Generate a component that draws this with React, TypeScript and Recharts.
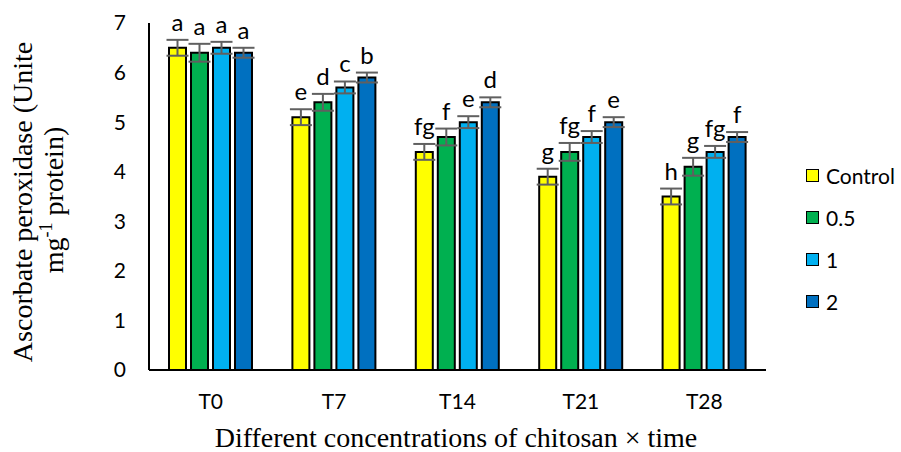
import { BarChart, Bar, XAxis, YAxis, ErrorBar, LabelList, Label } from 'recharts';

const categories = ['T0', 'T7', 'T14', 'T21', 'T28'];

const control = [6.5, 5.1, 4.4, 3.9, 3.5];
const c05 = [6.4, 5.4, 4.7, 4.4, 4.1];
const c1 = [6.5, 5.7, 5.0, 4.7, 4.4];
const c2 = [6.4, 5.9, 5.4, 5.0, 4.7];

const errControl = [0.16, 0.16, 0.16, 0.16, 0.16];
const err05 = [0.18, 0.17, 0.17, 0.18, 0.18];
const err1 = [0.12, 0.12, 0.12, 0.12, 0.12];
const err2 = [0.1, 0.1, 0.1, 0.1, 0.1];

const lettersControl = ['a', 'e', 'fg', 'g', 'h'];
const letters05 = ['a', 'd', 'f', 'fg', 'g'];
const letters1 = ['a', 'c', 'e', 'f', 'fg'];
const letters2 = ['a', 'b', 'd', 'e', 'f'];

const yTicks = [0, 1, 2, 3, 4, 5, 6, 7];

const series = [
	{ key: 'control', name: 'Control', color: '#FFFF00', values: control, errors: errControl, letters: lettersControl },
	{ key: 'c05', name: '0.5', color: '#00B050', values: c05, errors: err05, letters: letters05 },
	{ key: 'c1', name: '1', color: '#00B0F0', values: c1, errors: err1, letters: letters1 },
	{ key: 'c2', name: '2', color: '#0070C0', values: c2, errors: err2, letters: letters2 },
];

const data = categories.map((name, i) => {
	const row: Record<string, string | number> = { name };
	series.forEach((s) => {
		row[s.key] = s.values[i];
		row[s.key + 'Err'] = s.errors[i];
		row[s.key + 'Letter'] = s.letters[i];
	});
	return row;
});

const tickFont = { fontFamily: 'Lato', fontSize: 21, fill: '#000' };

const makeLetter = (values: number[], errors: number[]) => (props: any) => {
	const { x, y, width, height, index, value } = props;
	const pxPerUnit = height / values[index];
	const top = y - errors[index] * pxPerUnit;
	return (
		<text
			x={x + width / 2}
			y={top - 9}
			textAnchor="middle"
			fontFamily="Lato"
			fontSize={24}
			fill="#000"
		>
			{value}
		</text>
	);
};

const YTitle = () => (
	<g fontFamily="'Liberation Serif', 'Times New Roman', serif" fontSize={28} fill="#000">
		<text transform="translate(32, 202) rotate(-90)" textAnchor="middle">
			Ascorbate peroxidase (Unite
		</text>
		<text transform="translate(63, 200) rotate(-90)" textAnchor="middle">
			<tspan>mg</tspan>
			<tspan dy={-11} fontSize={18}>-1</tspan>
			<tspan dy={11}> protein)</tspan>
		</text>
	</g>
);

const XTitle = () => (
	<text
		x={456}
		y={447}
		textAnchor="middle"
		fontFamily="'Liberation Serif', 'Times New Roman', serif"
		fontSize={28}
		fill="#000"
	>
		Different concentrations of chitosan × time
	</text>
);

const App = () => {
	return (
		<div style={{ position: 'absolute', left: 0, top: 0, width: 901, height: 452, background: '#fff' }}>
			<BarChart
				width={901}
				height={452}
				data={data}
				margin={{ top: 23, right: 135, bottom: 0, left: 0 }}
				barSize={17}
				barGap={5}
			>
				<XAxis
					dataKey="name"
					height={82}
					axisLine={{ stroke: '#000', strokeWidth: 2 }}
					tickLine={false}
					tickSize={0}
					tickMargin={24}
					tick={tickFont}
				>
					<Label content={<XTitle />} />
				</XAxis>
				<YAxis
					width={149}
					domain={[0, 7]}
					ticks={yTicks}
					axisLine={{ stroke: '#000', strokeWidth: 2 }}
					tickLine={false}
					tickSize={0}
					tickMargin={23}
					tick={tickFont}
				>
					<Label content={<YTitle />} />
				</YAxis>
				{series.map((s) => (
					<Bar
						key={s.key}
						dataKey={s.key}
						name={s.name}
						fill={s.color}
						stroke="#000"
						strokeWidth={2}
						isAnimationActive={false}
					>
						<ErrorBar dataKey={s.key + 'Err'} width={11} stroke="#606060" strokeWidth={2} />
						<LabelList dataKey={s.key + 'Letter'} content={makeLetter(s.values, s.errors)} />
					</Bar>
				))}
			</BarChart>
			<div style={{ position: 'absolute', left: 806, top: 154, fontFamily: 'Lato', fontSize: 21 }}>
				{series.map((s) => (
					<div key={s.key} style={{ display: 'flex', alignItems: 'center', height: 42 }}>
						<span
							style={{
								display: 'inline-block',
								width: 11,
								height: 11,
								background: s.color,
								border: '1.5px solid #000',
								marginRight: 7,
							}}
						/>
						<span>{s.name}</span>
					</div>
				))}
			</div>
		</div>
	);
};

export default App;
